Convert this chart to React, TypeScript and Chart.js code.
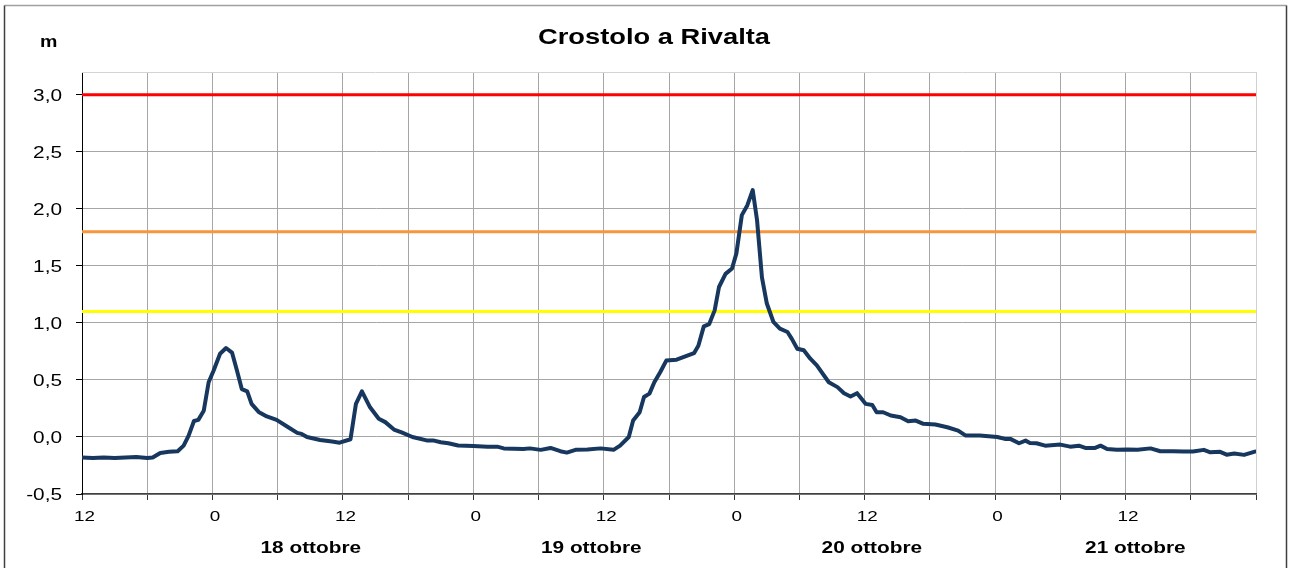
import React, { useEffect, useRef } from "react";
import { Chart, registerables } from "chart.js";

Chart.register(...registerables);

// hours since 17 ottobre 12:00
const hours = [
  0, 1, 2, 3, 4, 5, 6, 6.5, 7.2, 8, 8.8, 9.35, 9.8, 10.3, 10.7, 11.2, 11.65, 12.1, 12.7, 13.25,
  13.8, 14.26, 14.7, 15.2, 15.6, 16.25, 17, 17.9, 18.9, 19.8, 20.2, 20.7, 21.9, 23.0, 23.7, 24.7,
  25.2, 25.75, 26.5, 27.3, 27.9, 28.7, 29.4, 30.4, 31.7, 32.3, 33, 33.7, 34.6, 36, 37.3, 38.2,
  38.8, 40.6, 41.2, 42.2, 43.1, 44, 44.6, 45.4, 46.5, 47.7, 48.9, 49.5, 50.3, 50.7, 51.3, 51.7,
  52.2, 52.65, 53.2, 53.75, 54.7, 55.5, 56.3, 56.7, 57.2, 57.7, 58.2, 58.6, 59.2, 59.8, 60.2,
  60.7, 61.2, 61.7, 62.1, 62.55, 63, 63.6, 64.2, 64.9, 65.3, 65.8, 66.4, 67, 67.6, 68.7, 69.5,
  70.1, 70.7, 71.3, 72.1, 72.7, 73.1, 73.7, 74.4, 75.3, 76, 76.7, 77.4, 78.5, 79.6, 80.6, 81.3,
  82.6, 84.2, 84.9, 85.4, 86.2, 86.8, 87.2, 87.8, 88.6, 90, 90.9, 91.7, 92.3, 93.2, 93.7, 94.3,
  95.2, 96.2, 97.1, 98.3, 99.2, 100.4, 101.3, 102.2, 103.2, 103.8, 104.7, 105.3, 106, 106.9, 107.9,
];

const levels = [
  -0.18, -0.185, -0.18, -0.185, -0.18, -0.175, -0.185, -0.18, -0.14, -0.13, -0.125, -0.076, 0.01,
  0.14, 0.15, 0.23, 0.48, 0.58, 0.73, 0.78, 0.74, 0.58, 0.42, 0.4, 0.29, 0.22, 0.18, 0.15, 0.09,
  0.036, 0.027, 0.0, -0.026, -0.04, -0.05, -0.02, 0.29, 0.4, 0.26, 0.16, 0.13, 0.065, 0.04, 0.0,
  -0.03, -0.03, -0.046, -0.055, -0.075, -0.08, -0.085, -0.085, -0.1, -0.105, -0.1, -0.113, -0.096,
  -0.125, -0.137, -0.113, -0.11, -0.1, -0.113, -0.076, 0.0, 0.144, 0.217, 0.35, 0.38, 0.48, 0.57,
  0.67, 0.678, 0.707, 0.735, 0.8, 0.97, 0.99, 1.11, 1.315, 1.43, 1.477, 1.61, 1.945, 2.03, 2.165,
  1.9, 1.4, 1.17, 1.01, 0.95, 0.92, 0.86, 0.774, 0.76, 0.686, 0.627, 0.48, 0.437, 0.384, 0.355,
  0.384, 0.29, 0.28, 0.217, 0.217, 0.188, 0.173, 0.138, 0.144, 0.115, 0.109, 0.085, 0.056, 0.012,
  0.012, 0.0, -0.017, -0.017, -0.055, -0.032, -0.052, -0.055, -0.076, -0.067, -0.085, -0.076,
  -0.096, -0.096, -0.076, -0.105, -0.113, -0.11, -0.113, -0.1, -0.125, -0.125, -0.128, -0.128,
  -0.113, -0.134, -0.13, -0.155, -0.145, -0.157, -0.128,
];

const thresholdLevels = [3.0, 1.8, 1.1];
const thresholdColors = ["#FF0000", "#F7963C", "#FFFF00"];

const yTickValues = [-0.5, 0, 0.5, 1.0, 1.5, 2.0, 2.5, 3.0];
const xTickHours = [0, 12, 24, 36, 48, 60, 72, 84, 96];
const xTickLabels = ["12", "0", "12", "0", "12", "0", "12", "0", "12"];
const dateLabels = ["18 ottobre", "19 ottobre", "20 ottobre", "21 ottobre"];
const dateLabelHours = [21.05, 46.85, 72.66, 96.9];

const TITLE = "Crostolo a Rivalta";
const UNIT = "m";
const X_MAX = 108;
const Y_MIN = -0.5;
const Y_MAX = 3.2;

function stretchText(
  ctx: CanvasRenderingContext2D,
  text: string,
  x: number,
  y: number,
  font: string,
  sx: number,
  align: CanvasTextAlign,
  color = "#000"
) {
  ctx.save();
  ctx.font = font;
  ctx.fillStyle = color;
  ctx.textBaseline = "alphabetic";
  ctx.textAlign = align;
  ctx.translate(x, y);
  ctx.scale(sx, 1);
  ctx.fillText(text, 0, 0);
  ctx.restore();
}

const decorPlugin = {
  id: "decor",
  beforeDatasetsDraw(chart: any) {
    const { ctx, chartArea } = chart;
    ctx.save();
    ctx.strokeStyle = "#d4d4d4";
    ctx.lineWidth = 1;
    ctx.beginPath();
    ctx.moveTo(chartArea.left, Math.round(chartArea.top) + 0.5);
    ctx.lineTo(chartArea.right, Math.round(chartArea.top) + 0.5);
    ctx.stroke();
    ctx.restore();
  },
  afterDraw(chart: any) {
    const { ctx, scales } = chart;
    const xs = scales.x;
    const ys = scales.y;
    const F = "'Liberation Sans', Arial, sans-serif";

    // outer frame
    ctx.save();
    ctx.lineWidth = 1.5;
    ctx.strokeStyle = "#a0a0a0";
    ctx.beginPath();
    ctx.moveTo(4.5, 5.5);
    ctx.lineTo(1286.5, 5.5);
    ctx.stroke();
    ctx.strokeStyle = "#404040";
    ctx.beginPath();
    ctx.moveTo(4.5, 5.5);
    ctx.lineTo(4.5, 580);
    ctx.moveTo(1286.5, 5.5);
    ctx.lineTo(1286.5, 580);
    ctx.stroke();
    ctx.restore();

    // title and unit
    stretchText(ctx, TITLE, 654, 43.5, `bold 22px ${F}`, 1.24, "center");
    stretchText(ctx, UNIT, 48.7, 46.7, `bold 17px ${F}`, 1.15, "center");

    // y tick labels
    yTickValues.forEach((v) => {
      const py = ys.getPixelForValue(v);
      const label = v.toFixed(1).replace(".", ",");
      stretchText(ctx, label, 62, py + 5.8, `16px ${F}`, 1.3, "right");
    });

    // x tick labels
    xTickHours.forEach((h, i) => {
      const px = xs.getPixelForValue(h);
      stretchText(ctx, xTickLabels[i], px + 2.5, 521, `14px ${F}`, 1.35, "center");
    });

    // date labels
    dateLabelHours.forEach((h, i) => {
      const px = xs.getPixelForValue(h);
      stretchText(ctx, dateLabels[i], px, 553.3, `bold 16px ${F}`, 1.3, "center");
    });
  },
};

export default function App() {
  const canvasRef = useRef<HTMLCanvasElement | null>(null);

  useEffect(() => {
    const canvas = canvasRef.current;
    if (!canvas) return;

    const mainData = hours.map((h, i) => ({ x: h, y: levels[i] }));
    const thresholdSets = thresholdLevels.map((lv, i) => ({
      label: `soglia ${lv}`,
      data: [
        { x: 0, y: lv },
        { x: X_MAX, y: lv },
      ],
      borderColor: thresholdColors[i],
      borderWidth: 3,
      pointRadius: 0,
      fill: false,
    }));

    const chart = new Chart(canvas, {
      type: "line",
      data: {
        datasets: [
          {
            label: "Crostolo a Rivalta",
            data: mainData,
            borderColor: "#17375E",
            borderWidth: 4,
            pointRadius: 0,
            tension: 0,
            fill: false,
            borderJoinStyle: "round",
            borderCapStyle: "round",
          },
          ...thresholdSets,
        ],
      },
      options: {
        responsive: false,
        animation: false,
        devicePixelRatio: 1,
        layout: { padding: { left: 0, top: 72, right: 34, bottom: 0 } },
        plugins: {
          legend: { display: false },
          title: { display: false },
          tooltip: { enabled: false },
        },
        scales: {
          x: {
            type: "linear",
            min: 0,
            max: X_MAX,
            ticks: { stepSize: 6, display: false },
            grid: {
              color: (c: any) => (c.tick && c.tick.value === X_MAX ? "#d0d0d0" : "#a6a6a6"),
              lineWidth: 1,
              tickLength: 6,
              tickColor: "#333333",
              drawTicks: true,
            },
            border: { color: "#404040", width: 1.5 },
            afterFit: (s: any) => {
              s.height = 74;
            },
          },
          y: {
            type: "linear",
            min: Y_MIN,
            max: Y_MAX,
            ticks: { display: false },
            afterBuildTicks: (s: any) => {
              s.ticks = yTickValues.map((v) => ({ value: v }));
            },
            grid: {
              color: "#a6a6a6",
              lineWidth: 1,
              tickLength: 6,
              tickColor: "#000000",
              drawTicks: true,
            },
            border: { color: "#000000", width: 1 },
            afterFit: (s: any) => {
              s.width = 82;
            },
          },
        },
      },
      plugins: [decorPlugin],
    });

    return () => chart.destroy();
  }, []);

  return (
    <div style={{ position: "absolute", left: 0, top: 0, width: 1290, height: 568, background: "#fff" }}>
      <canvas ref={canvasRef} width={1290} height={568} style={{ width: 1290, height: 568, display: "block" }} />
    </div>
  );
}
